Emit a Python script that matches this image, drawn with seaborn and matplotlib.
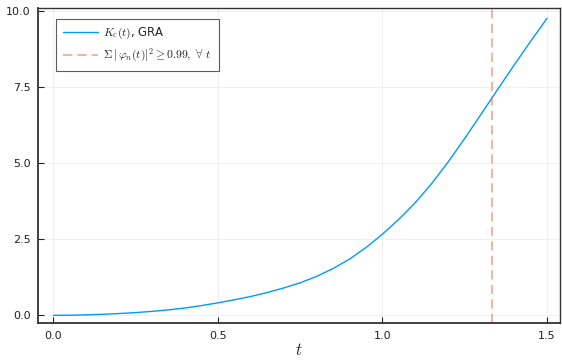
import matplotlib
matplotlib.use("Agg")
import matplotlib.pyplot as plt
import seaborn as sns
import pandas as pd

t_vals = [0.0, 0.05, 0.1, 0.15, 0.2, 0.25, 0.3, 0.35, 0.4, 0.45, 0.5, 0.55, 0.6, 0.65, 0.7, 0.75,
          0.8, 0.85, 0.9, 0.95, 1.0, 1.05, 1.1, 1.15, 1.2, 1.25, 1.3, 1.35, 1.4, 1.45, 1.5]
kc_vals = [0.0, 0.004, 0.015, 0.033, 0.058, 0.09, 0.13, 0.18, 0.24, 0.32, 0.41, 0.51, 0.62, 0.75, 0.90, 1.07,
           1.28, 1.54, 1.85, 2.23, 2.67, 3.16, 3.71, 4.34, 5.05, 5.82, 6.62, 7.43, 8.23, 9.01, 9.77]
t_threshold = [1.332]
x_ticks = [0.0, 0.5, 1.0, 1.5]
y_ticks = [0.0, 2.5, 5.0, 7.5, 10.0]
labels = [r"$K_c(t)$, GRA", r"$\Sigma\,|\,\varphi_n(t)|^2 \geq 0.99,\ \forall\ t$"]

sns.set_style("white")
plt.rcParams['font.family'] = ['DejaVu Sans']
plt.rcParams['mathtext.fontset'] = 'cm'

fig = plt.figure(figsize=(5.62, 3.6), dpi=100)
ax = fig.add_axes([38.3/562, 36.7/360, 521.7/562, 315/360])

df = pd.DataFrame({"t": t_vals, "Kc": kc_vals})
sns.lineplot(data=df, x="t", y="Kc", ax=ax, color="#009AFA", linewidth=1.0, label=labels[0])
for tv in t_threshold:
    ax.axvline(tv, color="#E36F47", alpha=0.6, linestyle=(0, (5.5, 3.2)), linewidth=1.2, label=labels[1])

ax.set_xlim(-0.046, 1.5395)
ax.set_ylim(-0.263, 10.1)
ax.set_xticks(x_ticks)
ax.set_xticklabels([f"{v:.1f}" for v in x_ticks])
ax.set_yticks(y_ticks)
ax.set_yticklabels([f"{v:.1f}" for v in y_ticks])
ax.tick_params(direction="in", length=4, width=0.8, labelsize=8, colors="#222222",
               pad=5.5, top=False, right=False, bottom=True, left=True)
ax.grid(True, color="#000000", alpha=0.07, linewidth=0.6)
for s in ax.spines.values():
    s.set_color("#333333")
    s.set_linewidth(1.0)
ax.spines['left'].set_linewidth(1.3)
ax.spines['bottom'].set_linewidth(1.3)
ax.set_xlabel(r"$t$", fontsize=12, labelpad=0)
ax.set_ylabel("")

leg = ax.legend(loc="upper left", fontsize=8.4, frameon=True, fancybox=False,
                edgecolor="#333333", handlelength=3.0, handletextpad=0.45,
                borderpad=0.6, labelspacing=0.5, borderaxespad=0,
                bbox_to_anchor=(0.034, 0.966))
leg.get_frame().set_linewidth(0.8)

fig.savefig("out.png", dpi=100)
